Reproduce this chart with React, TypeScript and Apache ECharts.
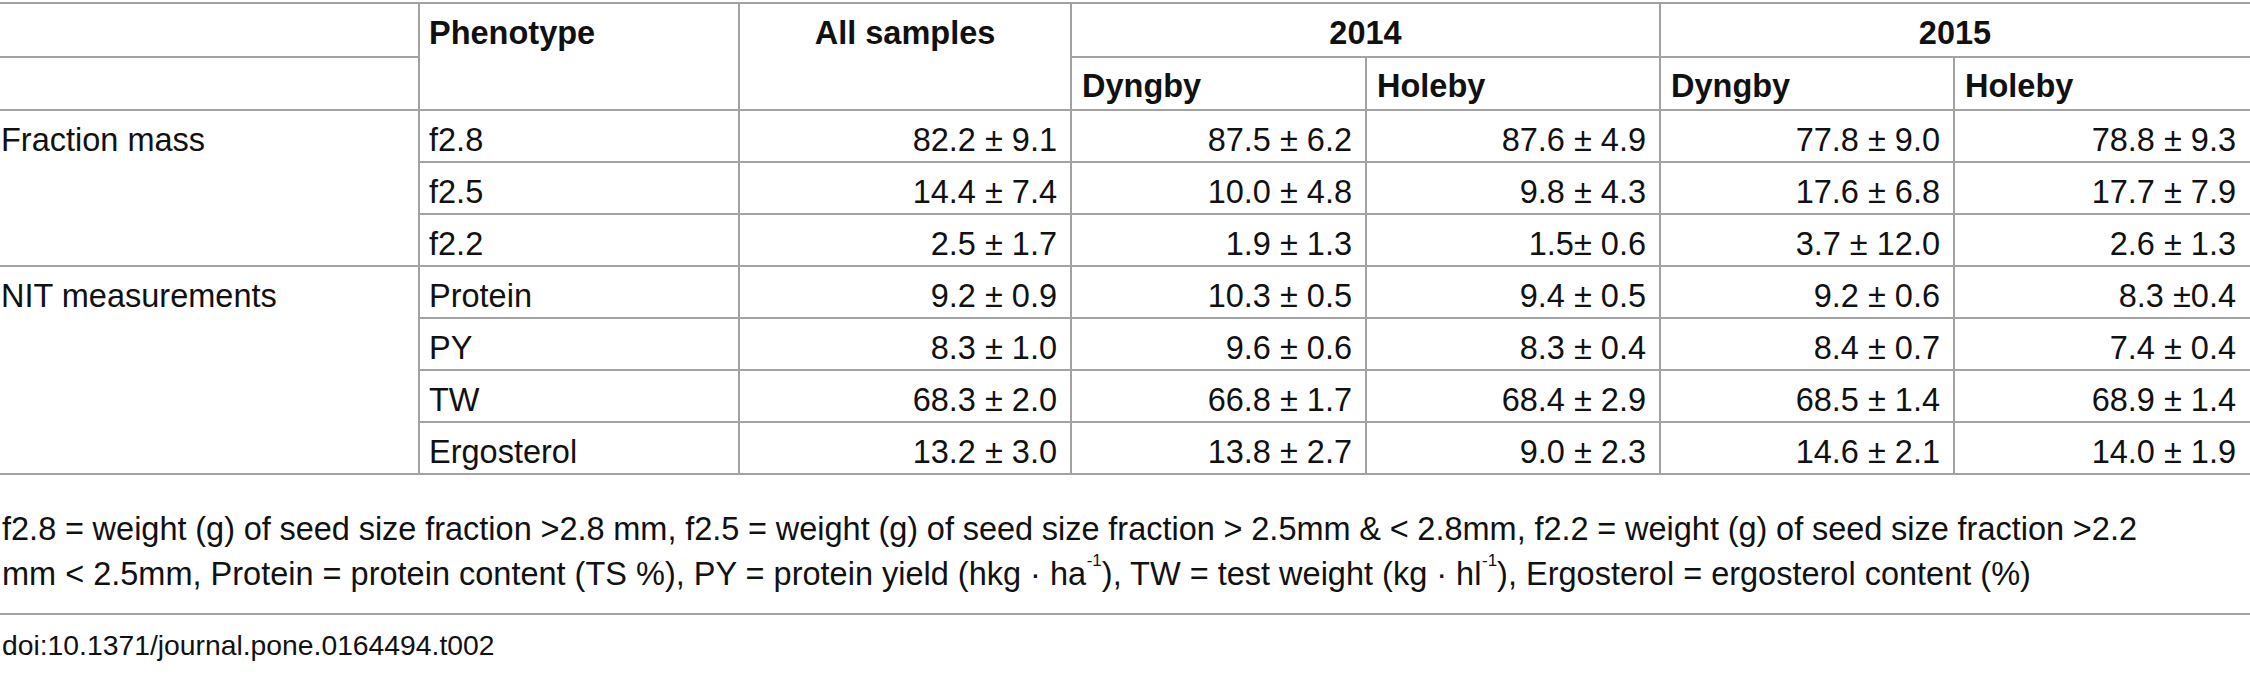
import React, { useEffect, useRef } from "react";
import * as echarts from "echarts";

// ---- table content ----
const groupLabels = ["Fraction mass", "NIT measurements"];
const groupFirstRow = [0, 3];
const phenotypes = ["f2.8", "f2.5", "f2.2", "Protein", "PY", "TW", "Ergosterol"];
const headerTop = ["Phenotype", "All samples", "2014", "2015"];
const sites = ["Dyngby", "Holeby", "Dyngby", "Holeby"];
const allSamples = ["82.2 ± 9.1", "14.4 ± 7.4", "2.5 ± 1.7", "9.2 ± 0.9", "8.3 ± 1.0", "68.3 ± 2.0", "13.2 ± 3.0"];
const dyngby2014 = ["87.5 ± 6.2", "10.0 ± 4.8", "1.9 ± 1.3", "10.3 ± 0.5", "9.6 ± 0.6", "66.8 ± 1.7", "13.8 ± 2.7"];
const holeby2014 = ["87.6 ± 4.9", "9.8 ± 4.3", "1.5± 0.6", "9.4 ± 0.5", "8.3 ± 0.4", "68.4 ± 2.9", "9.0 ± 2.3"];
const dyngby2015 = ["77.8 ± 9.0", "17.6 ± 6.8", "3.7 ± 12.0", "9.2 ± 0.6", "8.4 ± 0.7", "68.5 ± 1.4", "14.6 ± 2.1"];
const holeby2015 = ["78.8 ± 9.3", "17.7 ± 7.9", "2.6 ± 1.3", "8.3 ±0.4", "7.4 ± 0.4", "68.9 ± 1.4", "14.0 ± 1.9"];
const footnote1 =
  "f2.8 = weight (g) of seed size fraction >2.8 mm, f2.5 = weight (g) of seed size fraction > 2.5mm & < 2.8mm, f2.2 = weight (g) of seed size fraction >2.2";
const footnote2 =
  "mm < 2.5mm, Protein = protein content (TS %), PY = protein yield (hkg · ha{sup|-1}), TW = test weight (kg · hl{sup|-1}), Ergosterol = ergosterol content (%)";
const doiText = "doi:10.1371/journal.pone.0164494.t002";

// ---- layout ----
const W = 2250;
const H = 675;
const colX = [0, 419, 739, 1071, 1366, 1660, 1954, 2250];
const topY = 3;
const splitY = 57;
const headY = 110;
const rowH = 52;
const ruleY = 614;
const foot1Right = 2137; // first footnote line is justified to this edge
const lineColor = "#a2a2a2";
const textColor = "#111111";
const FONT = "'Liberation Sans', Arial, Helvetica, sans-serif";
const TABLE_SIZE = 32.5;
const FOOT_SIZE = 32.5;
const DOI_SIZE = 28.3;

function txt(x: number, y: number, text: string, align: string, size: number, bold = false, extra: any = {}) {
  return {
    type: "text",
    x,
    y,
    silent: true,
    style: {
      text,
      fill: textColor,
      fontSize: size,
      fontFamily: FONT,
      fontWeight: bold ? "bold" : "normal",
      align,
      textAlign: align,
      verticalAlign: "middle",
      textVerticalAlign: "middle",
      ...extra,
    },
  };
}

function hline(y: number, x1: number, x2: number) {
  return { type: "line", silent: true, shape: { x1, y1: y, x2, y2: y }, style: { stroke: lineColor, lineWidth: 2 } };
}
function vline(x: number, y1: number, y2: number) {
  return { type: "line", silent: true, shape: { x1: x, y1, x2: x, y2 }, style: { stroke: lineColor, lineWidth: 2 } };
}

function measure(text: string, size: number): number {
  const c = document.createElement("canvas").getContext("2d");
  if (!c) return text.length * size * 0.5;
  c.font = `${size}px 'Liberation Sans', Arial, sans-serif`;
  return c.measureText(text).width;
}

function justifiedLine(text: string, x0: number, x1: number, y: number, size: number) {
  const words = text.split(" ");
  const widths = words.map((w) => measure(w, size));
  const total = widths.reduce((a, b) => a + b, 0);
  const gap = words.length > 1 ? (x1 - x0 - total) / (words.length - 1) : 0;
  const out: any[] = [];
  let x = x0;
  words.forEach((w, i) => {
    out.push(txt(x, y, w, "left", size));
    x += widths[i] + gap;
  });
  return out;
}

function buildElements() {
  const els: any[] = [];
  const nRows = phenotypes.length;
  const bottomY = headY + rowH * nRows;
  const rowTop = (i: number) => headY + rowH * i;

  // horizontal rules
  els.push(hline(topY, 0, W));
  els.push(hline(splitY, 0, colX[1]));
  els.push(hline(splitY, colX[3], W));
  els.push(hline(headY, 0, W));
  for (let i = 1; i < nRows; i++) {
    const full = groupFirstRow.includes(i);
    els.push(hline(rowTop(i), full ? 0 : colX[1], W));
  }
  els.push(hline(bottomY, 0, W));
  els.push(hline(ruleY, 0, W));

  // vertical rules
  [1, 2, 3, 5].forEach((c) => els.push(vline(colX[c], topY, bottomY)));
  [4, 6].forEach((c) => els.push(vline(colX[c], splitY, bottomY)));

  // headers
  const h1 = 33;
  const h2 = 86;
  els.push(txt(colX[1] + 10, h1, headerTop[0], "left", TABLE_SIZE, true));
  els.push(txt((colX[2] + colX[3]) / 2, h1, headerTop[1], "center", TABLE_SIZE, true));
  els.push(txt((colX[3] + colX[5]) / 2, h1, headerTop[2], "center", TABLE_SIZE, true));
  els.push(txt((colX[5] + colX[7]) / 2, h1, headerTop[3], "center", TABLE_SIZE, true));
  sites.forEach((s, k) => els.push(txt(colX[3 + k] + 11, h2, s, "left", TABLE_SIZE, true)));

  // group labels
  groupLabels.forEach((g, k) => els.push(txt(1, rowTop(groupFirstRow[k]) + 30, g, "left", TABLE_SIZE)));

  // body
  const cols = [allSamples, dyngby2014, holeby2014, dyngby2015, holeby2015];
  phenotypes.forEach((p, i) => {
    const y = rowTop(i) + 30;
    els.push(txt(colX[1] + 10, y, p, "left", TABLE_SIZE));
    cols.forEach((col, c) => {
      els.push(txt(colX[c + 3] - 14, y, col[i], "right", TABLE_SIZE));
    });
  });

  // footnotes
  justifiedLine(footnote1, 2, foot1Right, 529, FOOT_SIZE).forEach((e) => els.push(e));
  els.push(
    txt(2, 574, footnote2, "left", FOOT_SIZE, false, {
      lineHeight: 44,
      rich: {
        sup: { fontSize: 17, lineHeight: 32, verticalAlign: "top", fill: textColor, fontFamily: FONT },
      },
    })
  );
  els.push(txt(2, 645, doiText, "left", DOI_SIZE));
  return els;
}

export default function App() {
  const ref = useRef<HTMLDivElement>(null);
  useEffect(() => {
    if (!ref.current) return;
    const chart = echarts.init(ref.current, undefined, { renderer: "svg" });
    chart.setOption({
      animation: false,
      backgroundColor: "#ffffff",
      graphic: { elements: buildElements() },
    });
    return () => chart.dispose();
  }, []);
  return (
    <div
      ref={ref}
      style={{ position: "fixed", left: 0, top: 0, width: W, height: H, background: "#fff" }}
    />
  );
}
